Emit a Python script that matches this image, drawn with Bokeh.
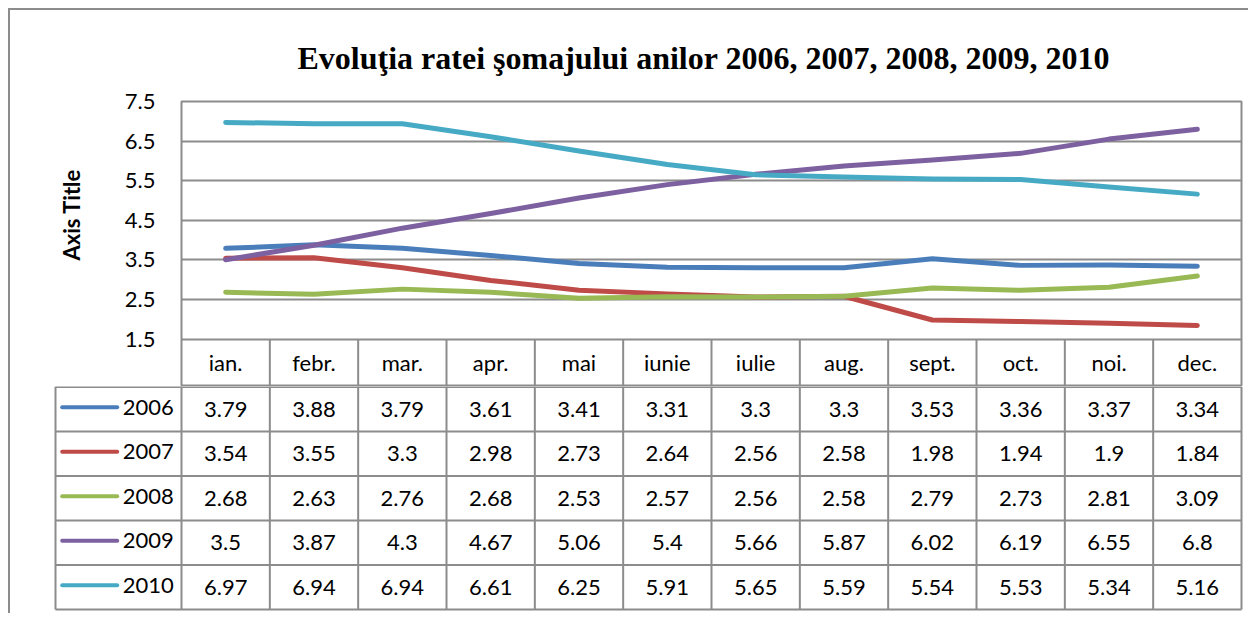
from bokeh.plotting import figure
from bokeh.layouts import column
from bokeh.models import Range1d, FixedTicker, Title
from bokeh.core.properties import value
from bokeh.embed import file_html
from bokeh.resources import INLINE

title_text = "Evoluţia ratei şomajului anilor 2006, 2007, 2008, 2009, 2010"
axis_title = "Axis Title"
months = ["ian.", "febr.", "mar.", "apr.", "mai", "iunie", "iulie", "aug.", "sept.", "oct.", "noi.", "dec."]
years = ["2006", "2007", "2008", "2009", "2010"]
s2006 = [3.79, 3.88, 3.79, 3.61, 3.41, 3.31, 3.3, 3.3, 3.53, 3.36, 3.37, 3.34]
s2007 = [3.54, 3.55, 3.3, 2.98, 2.73, 2.64, 2.56, 2.58, 1.98, 1.94, 1.9, 1.84]
s2008 = [2.68, 2.63, 2.76, 2.68, 2.53, 2.57, 2.56, 2.58, 2.79, 2.73, 2.81, 3.09]
s2009 = [3.5, 3.87, 4.3, 4.67, 5.06, 5.4, 5.66, 5.87, 6.02, 6.19, 6.55, 6.8]
s2010 = [6.97, 6.94, 6.94, 6.61, 6.25, 5.91, 5.65, 5.59, 5.54, 5.53, 5.34, 5.16]
y_ticks = [1.5, 2.5, 3.5, 4.5, 5.5, 6.5, 7.5]
colors = ["#4A7EBB", "#BE4B48", "#98B954", "#7D60A0", "#46AAC5"]
series = [s2006, s2007, s2008, s2009, s2010]

GRID = "#8c8c8c"
FONT = "Lato"
n = len(months)
xs = [i + 0.5 for i in range(n)]
ymin, ymax = y_ticks[0], y_ticks[-1]
header_units = 1.2  # height of the month header row, in y units
unit_px = 1060 / n

# ---------------- chart (plot area + month header row) ----------------
p1 = figure(width=1238, height=376, output_backend="svg", toolbar_location=None,
            x_range=Range1d(0, n), y_range=Range1d(ymin - header_units, ymax),
            min_border_left=171, min_border_right=7, min_border_top=91, min_border_bottom=0,
            title=title_text)
p1.frame_align = False
p1.title.text_font = "Liberation Serif"
p1.title.text_font_size = "32px"
p1.title.text_font_style = "bold"
p1.title.text_color = "#000000"
p1.title.align = "left"
p1.title.offset = 116
p1.title.standoff = 51
p1.xaxis.visible = False
p1.xgrid.visible = False
p1.yaxis.ticker = FixedTicker(ticks=y_ticks)
p1.yaxis.axis_line_color = None
p1.yaxis.major_tick_line_color = None
p1.yaxis.minor_tick_line_color = None
p1.yaxis.major_label_standoff = 20
p1.yaxis.major_label_text_font = FONT
p1.yaxis.major_label_text_font_size = "22px"
p1.yaxis.major_label_text_color = "#000000"
p1.ygrid.ticker = FixedTicker(ticks=y_ticks)
p1.ygrid.grid_line_color = GRID
p1.ygrid.grid_line_width = 2
p1.outline_line_color = GRID
p1.outline_line_width = 2
p1.background_fill_color = "white"
p1.border_fill_color = "white"

p1.add_layout(Title(text=axis_title, align="left", offset=126, standoff=74,
                    text_font=FONT, text_font_size="22px", text_font_style="bold",
                    text_color="#000000"), "left")

for s, c in zip(series, colors):
    p1.line(xs, s, line_color=c, line_width=5, line_cap="round", line_join="round")

# header row: column separators and month names
hv = list(range(1, n))
p1.segment(x0=hv, x1=hv, y0=[ymin] * len(hv), y1=[ymin - header_units - 0.1] * len(hv),
           line_color=GRID, line_width=2)
p1.text(x=xs, y=[ymin - 0.6] * n, text=months, text_align="center", text_baseline="middle",
        text_font=value(FONT), text_font_size="22px", text_color="#000000")

# ---------------- data table rows ----------------
row_h = 44.5
nr = len(years)
leg_w = (181 - 55) / unit_px
top = -0.6 / row_h
p2 = figure(width=1238, height=227, output_backend="svg", toolbar_location=None,
            x_range=Range1d(-(181 - 40) / unit_px, n + 5 / unit_px),
            y_range=Range1d(top + 226 / row_h, top),
            min_border_left=30, min_border_right=2, min_border_top=0, min_border_bottom=1)
p2.frame_align = False
p2.axis.visible = False
p2.grid.visible = False
p2.outline_line_color = None
p2.background_fill_color = "white"
p2.border_fill_color = "white"

hy = list(range(nr + 1))
p2.segment(x0=[-leg_w] * len(hy), x1=[n] * len(hy), y0=hy, y1=hy, line_color=GRID, line_width=2)
vx = [-leg_w] + list(range(n + 1))
p2.segment(x0=vx, x1=vx, y0=[top] * len(vx), y1=[nr] * len(vx), line_color=GRID, line_width=2)

tx, ty, tt = [], [], []
for k, s in enumerate(series):
    for i, v in enumerate(s):
        tx.append(i + 0.5); ty.append(k + 0.5); tt.append(f"{v:g}")
p2.text(x=tx, y=ty, text=tt, text_align="center", text_baseline="middle",
        text_font=value(FONT), text_font_size="22px", text_color="#000000")

ly = [k + 0.45 for k in range(nr)]
p2.segment(x0=[(61.7 - 181) / unit_px] * nr, x1=[(116.7 - 181) / unit_px] * nr, y0=ly, y1=ly,
           line_color=colors, line_width=4, line_cap="round")
p2.text(x=[-0.087] * nr, y=ly, text=years, text_align="right", text_baseline="middle",
        text_font=value(FONT), text_font_size="22px", text_color="#000000")

layout = column(p1, p2, spacing=0, margin=(8, 0, 0, 8),
                styles={"border-top": "2px solid #8c8c8c", "border-left": "2px solid #8c8c8c"})

open("out.html", "w").write(file_html(layout, INLINE))
